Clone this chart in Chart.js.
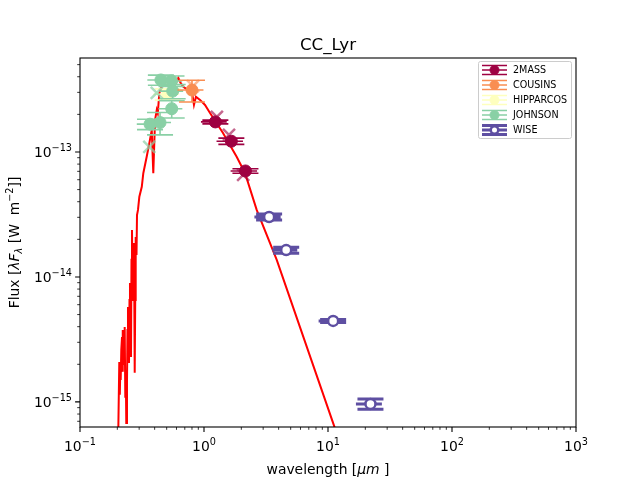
<!DOCTYPE html>
<html>
<head>
<meta charset="utf-8">
<script src="https://cdn.jsdelivr.net/npm/chart.js@4/dist/chart.umd.min.js"></script>
<style>
html, body { margin: 0; padding: 0; background: #fff; }
</style>
</head>
<body>
<canvas id="mycanvas" width="640" height="480"></canvas>
<script>
// model spectrum (wavelength in micron, lambda*F_lambda in W m^-2)
var modelWave = [0.2025, 0.2074, 0.2094, 0.2113, 0.2129, 0.2153, 0.2182, 0.2202, 0.2222, 0.2243,
	0.2264, 0.2293, 0.2319, 0.2340, 0.2362, 0.2393, 0.2415, 0.2438, 0.2461, 0.2484,
	0.2507, 0.2530, 0.2554, 0.2578, 0.2602, 0.2626, 0.2651, 0.2676, 0.2701, 0.2726,
	0.2762, 0.2788, 0.2813, 0.2856, 0.2882, 0.2936, 0.301, 0.315, 0.324, 0.345,
	0.362, 0.379, 0.390, 0.403, 0.416, 0.424, 0.436, 0.456, 0.470, 0.500,
	0.525, 0.539, 0.565, 0.584, 0.621, 0.649, 0.681, 0.743, 0.800, 0.830,
	0.861, 0.929, 1.019, 1.118, 1.423, 1.834, 2.14, 2.66, 3.86, 11.2,
	12.5];
var modelFlux = [4.0e-16, 2.09e-15, 1.14e-15, 1.80e-15, 1.50e-15, 2.61e-15, 3.31e-15, 1.74e-15, 3.77e-15, 1.98e-15,
	2.61e-15, 3.98e-15, 1.10e-15, 1.80e-15, 6.79e-16, 1.42e-15, 3.77e-15, 5.75e-15, 2.61e-15, 2.05e-15,
	6.55e-15, 8.95e-15, 4.53e-15, 2.29e-15, 1.37e-14, 2.38e-14, 9.46e-15, 6.55e-15, 1.64e-14, 1.87e-14,
	1.71e-15, 6.55e-15, 2.09e-14, 1.50e-14, 3.13e-14, 3.44e-14, 4.39e-14, 5.27e-14, 6.76e-14, 9.17e-14,
	1.17e-13, 1.50e-13, 6.76e-14, 1.80e-13, 2.17e-13, 2.04e-13, 2.95e-13, 3.33e-13, 3.55e-13, 3.65e-13,
	3.44e-13, 3.77e-13, 3.65e-13, 3.44e-13, 3.91e-13, 3.55e-13, 3.33e-13, 3.13e-13, 3.02e-13, 2.38e-13,
	2.77e-13, 2.61e-13, 2.38e-13, 2.05e-13, 1.42e-13, 9.17e-14, 6.79e-14, 3.44e-14, 1.37e-14, 6.43e-16,
	4.61e-16];

// photometry
var twomassWave = [1.235, 1.662, 2.159];
var twomassFlux = [1.74e-13, 1.22e-13, 7.05e-14];
var twomassWaveErr = [0.29, 0.40, 0.52];
var twomassFluxErr = [0.06e-13, 0.07e-13, 0.03e-13];
var twomassSynWave = [1.27, 1.59, 2.07];
var twomassSynFlux = [1.91e-13, 1.37e-13, 6.55e-14];

var cousinsWave = [0.80];
var cousinsFlux = [3.13e-13];
var cousinsWaveErr = [0.19];
var cousinsFluxErr = [0.62e-13];
var cousinsSynWave = [0.815];
var cousinsSynFlux = [3.37e-13];

var hipparcosWave = [0.51];
var hipparcosFlux = [2.9e-13];
var hipparcosWaveErr = [0.12];
var hipparcosFluxErr = [0.3e-13];

var johnsonWave = [0.367, 0.442, 0.449, 0.547, 0.559, 0.549];
var johnsonFlux = [1.67e-13, 1.72e-13, 3.77e-13, 3.70e-13, 3.07e-13, 2.22e-13];
var johnsonWaveErr = [0.08, 0.10, 0.10, 0.12, 0.12, 0.12];
var johnsonFluxErr = [0.16e-13, 0.35e-13, 0.35e-13, 0.35e-13, 0.4e-13, 0.35e-13];
var johnsonSynWave = [0.362, 0.416];
var johnsonSynFlux = [1.10e-13, 2.97e-13];

var wiseWave = [3.35, 4.6, 11.0, 22.0];
var wiseFlux = [3.02e-14, 1.64e-14, 4.45e-15, 9.64e-16];
var wiseWaveErr = [0.8, 1.05, 2.6, 5.2];
var wiseFluxErr = [0.17e-14, 0.09e-14, 0.12e-15, 0.9e-16];

var xTickDecades = [-1, 0, 1, 2, 3];
var yTickDecades = [-15, -14, -13];

function pts(xs, ys) {
	var out = [];
	for (var i in xs) out.push({x: xs[i], y: ys[i]});
	return out;
}

var FONT = '"DejaVu Sans", sans-serif';

// draws a run of text pieces (for super/subscripts) centred or right aligned
function richText(ctx, parts, x, y, align) {
	var w = 0;
	parts.forEach(function(p){
		ctx.font = (p.italic ? 'italic ' : '') + p.size + 'px ' + FONT;
		p.w = ctx.measureText(p.t).width;
		w += p.w;
	});
	var sx = align == 'right' ? x - w : x - w / 2;
	ctx.textAlign = 'left';
	ctx.textBaseline = 'alphabetic';
	parts.forEach(function(p){
		ctx.font = (p.italic ? 'italic ' : '') + p.size + 'px ' + FONT;
		ctx.fillText(p.t, sx, y + (p.dy || 0));
		sx += p.w;
	});
}

function expo(k) {
	return k < 0 ? '\u2212' + (-k) : '' + k;
}

var errorBars = {
	id: 'errorBars',
	beforeDatasetDraw: function(chart, args) {
		var ds = chart.data.datasets[args.index];
		if (!ds.errY) return;
		var sx = chart.scales.x, sy = chart.scales.y, ctx = chart.ctx, a = chart.chartArea;
		ctx.save();
		ctx.beginPath();
		ctx.rect(a.left, a.top, a.right - a.left, a.bottom - a.top);
		ctx.clip();
		ctx.strokeStyle = ds.errColor;
		ctx.lineWidth = ds.errWidth;
		ds.data.forEach(function(p, i){
			var px = sx.getPixelForValue(p.x), py = sy.getPixelForValue(p.y);
			var x0 = sx.getPixelForValue(p.x - ds.errX[i]), x1 = sx.getPixelForValue(p.x + ds.errX[i]);
			var y0 = sy.getPixelForValue(p.y - ds.errY[i]), y1 = sy.getPixelForValue(p.y + ds.errY[i]);
			ctx.beginPath();
			ctx.moveTo(x0, py); ctx.lineTo(x1, py);
			ctx.moveTo(px, y0); ctx.lineTo(px, y1);
			ctx.moveTo(px - 13, y0); ctx.lineTo(px + 13, y0);
			ctx.moveTo(px - 13, y1); ctx.lineTo(px + 13, y1);
			ctx.stroke();
		});
		ctx.restore();
	}
};

var frame = {
	id: 'frame',
	afterDraw: function(chart) {
		var ctx = chart.ctx, a = chart.chartArea, sx = chart.scales.x, sy = chart.scales.y;
		ctx.save();
		ctx.fillStyle = '#000';
		ctx.strokeStyle = '#000';

		// ticks
		ctx.lineWidth = 1.1;
		ctx.beginPath();
		xTickDecades.forEach(function(k){
			var px = sx.getPixelForValue(Math.pow(10, k));
			ctx.moveTo(px, a.bottom); ctx.lineTo(px, a.bottom + 4.9);
		});
		yTickDecades.forEach(function(k){
			var py = sy.getPixelForValue(Math.pow(10, k));
			ctx.moveTo(a.left, py); ctx.lineTo(a.left - 4.9, py);
		});
		ctx.stroke();
		ctx.lineWidth = 0.8;
		ctx.beginPath();
		for (var k = -1; k < 3; k++) {
			for (var m = 2; m < 10; m++) {
				var px = sx.getPixelForValue(m * Math.pow(10, k));
				ctx.moveTo(px, a.bottom); ctx.lineTo(px, a.bottom + 2.8);
			}
		}
		for (var k = -16; k < -12; k++) {
			for (var m = 2; m < 10; m++) {
				var v = m * Math.pow(10, k);
				if (v < sy.min || v > sy.max) continue;
				var py = sy.getPixelForValue(v);
				ctx.moveTo(a.left, py); ctx.lineTo(a.left - 2.8, py);
			}
		}
		ctx.stroke();

		// spines
		ctx.lineWidth = 1.1;
		ctx.strokeRect(a.left, a.top, a.right - a.left, a.bottom - a.top);

		// tick labels
		xTickDecades.forEach(function(k){
			var px = sx.getPixelForValue(Math.pow(10, k));
			richText(ctx, [{t: '10', size: 13.9}, {t: expo(k), size: 9.7, dy: -6}], px, a.bottom + 24, 'center');
		});
		yTickDecades.forEach(function(k){
			var py = sy.getPixelForValue(Math.pow(10, k));
			richText(ctx, [{t: '10', size: 13.9}, {t: expo(k), size: 9.7, dy: -6}], a.left - 8, py + 5, 'right');
		});

		// title and axis labels
		richText(ctx, [{t: 'CC_Lyr', size: 16.7}], (a.left + a.right) / 2, 50, 'center');
		richText(ctx, [{t: 'wavelength [', size: 13.9}, {t: '\u03bcm', size: 13.9, italic: true}, {t: ' ]', size: 13.9}],
			(a.left + a.right) / 2, 474, 'center');
		ctx.translate(19, (a.top + a.bottom) / 2);
		ctx.rotate(-Math.PI / 2);
		richText(ctx, [
			{t: 'Flux [', size: 13.9},
			{t: '\u03bbF', size: 13.9, italic: true},
			{t: '\u03bb', size: 9.7, italic: true, dy: 3},
			{t: ' [W  m', size: 13.9},
			{t: '\u22122', size: 9.7, dy: -6},
			{t: ']]', size: 13.9}
		], 0, 0, 'center');
		ctx.restore();
	}
};

var legendBox = {
	id: 'legendBox',
	afterDraw: function(chart) {
		var ctx = chart.ctx;
		var items = chart.data.datasets.filter(function(d){ return d.inLegend; });
		ctx.save();
		ctx.beginPath();
		ctx.roundRect(478.5, 61.5, 93, 77, 2);
		ctx.fillStyle = 'rgba(255,255,255,0.8)';
		ctx.fill();
		ctx.strokeStyle = '#cccccc';
		ctx.lineWidth = 1;
		ctx.stroke();
		items.forEach(function(d, i){
			var cy = 70 + i * 15;
			ctx.strokeStyle = d.errColor;
			ctx.lineWidth = d.errWidth;
			ctx.beginPath();
			ctx.moveTo(482, cy); ctx.lineTo(507, cy);
			ctx.moveTo(482, cy - 4.5); ctx.lineTo(507, cy - 4.5);
			ctx.moveTo(482, cy + 4.5); ctx.lineTo(507, cy + 4.5);
			ctx.stroke();
			ctx.beginPath();
			ctx.arc(494.5, cy, d.pointRadius * 0.75, 0, Math.PI * 2);
			ctx.fillStyle = d.backgroundColor;
			ctx.fill();
			ctx.lineWidth = d.borderWidth;
			ctx.strokeStyle = d.borderColor;
			ctx.stroke();
			ctx.fillStyle = '#000';
			ctx.font = '9.6px ' + FONT;
			ctx.textAlign = 'left';
			ctx.textBaseline = 'middle';
			ctx.fillText(d.label, 513, cy + 0.5);
		});
		ctx.restore();
	}
};

function obs(label, color, xs, ys, ex, ey, extra) {
	var d = {
		label: label,
		data: pts(xs, ys),
		errX: ex,
		errY: ey,
		errColor: color,
		errWidth: 1.6,
		inLegend: true,
		pointStyle: 'circle',
		pointRadius: 6,
		backgroundColor: color,
		borderColor: color,
		borderWidth: 1,
		order: 5
	};
	for (var k in extra) d[k] = extra[k];
	return d;
}

function syn(label, color, xs, ys) {
	return {
		label: label,
		data: pts(xs, ys),
		pointStyle: 'crossRot',
		pointRadius: 8.5,
		borderColor: color,
		backgroundColor: color,
		borderWidth: 2.5,
		order: 1
	};
}

var ctx = document.getElementById('mycanvas');

var sed = new Chart(ctx, {
	type: 'scatter',
	data: {
		datasets: [
			{
				label: 'model',
				data: pts(modelWave, modelFlux),
				showLine: true,
				borderColor: '#ff0000',
				backgroundColor: '#ff0000',
				borderWidth: 2,
				pointRadius: 0,
				tension: 0,
				order: 10
			},
			obs('2MASS', '#9e0142', twomassWave, twomassFlux, twomassWaveErr, twomassFluxErr),
			obs('COUSINS', '#f98e52', cousinsWave, cousinsFlux, cousinsWaveErr, cousinsFluxErr),
			obs('HIPPARCOS', '#feffbe', hipparcosWave, hipparcosFlux, hipparcosWaveErr, hipparcosFluxErr, {order: 6}),
			obs('JOHNSON', '#89d0a5', johnsonWave, johnsonFlux, johnsonWaveErr, johnsonFluxErr),
			obs('WISE', '#5e4fa2', wiseWave, wiseFlux, wiseWaveErr, wiseFluxErr,
				{backgroundColor: '#ffffff', pointRadius: 5, borderWidth: 2.5, errWidth: 3}),
			syn('2MASS model', 'rgba(158,1,66,0.6)', twomassSynWave, twomassSynFlux),
			syn('COUSINS model', 'rgba(249,142,82,0.6)', cousinsSynWave, cousinsSynFlux),
			syn('JOHNSON model', 'rgba(137,208,165,0.7)', johnsonSynWave, johnsonSynFlux)
		]
	},
	options: {
		responsive: false,
		animation: false,
		events: [],
		layout: { padding: { top: 58, right: 64, left: 0, bottom: 0 } },
		plugins: {
			legend: { display: false },
			tooltip: { enabled: false },
			title: { display: false }
		},
		scales: {
			x: {
				type: 'logarithmic',
				min: 0.1,
				max: 1000,
				ticks: { display: false },
				grid: { display: false },
				border: { display: false },
				afterFit: function(scale){ scale.height = 53; }
			},
			y: {
				type: 'logarithmic',
				min: 6.3e-16,
				max: 5.65e-13,
				ticks: { display: false },
				grid: { display: false },
				border: { display: false },
				afterFit: function(scale){ scale.width = 80; }
			}
		}
	},
	plugins: [errorBars, frame, legendBox]
});
</script>
</body>
</html>
